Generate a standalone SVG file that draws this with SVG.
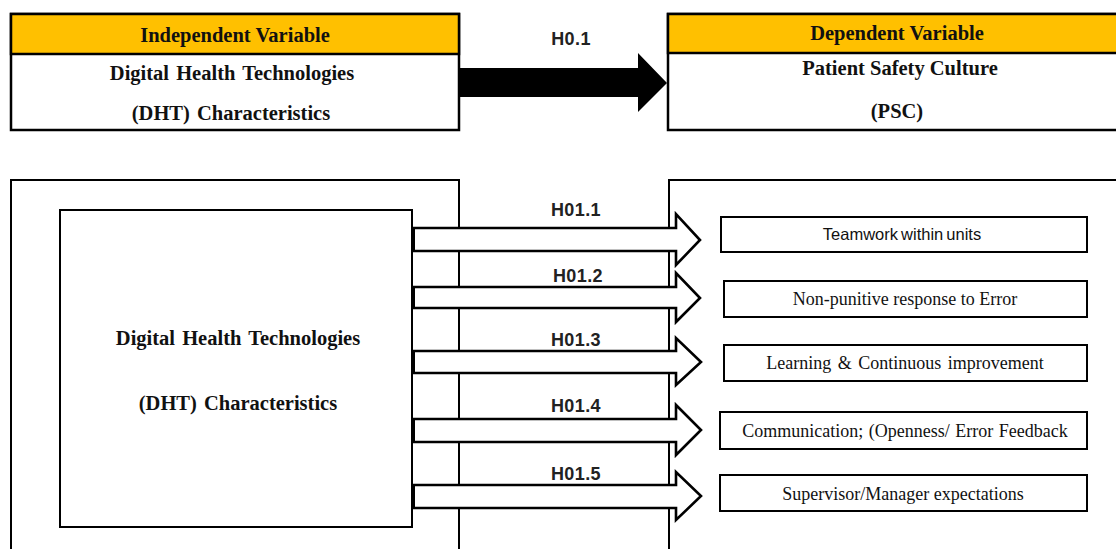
<svg xmlns="http://www.w3.org/2000/svg" width="1116" height="549" viewBox="0 0 1116 549">
<style>
.box{fill:#fff;stroke:#000;stroke-width:2.5}
.hdr{fill:#FFC000;stroke:#000;stroke-width:2.5}
.frame{fill:none;stroke:#000;stroke-width:2}
.hb{font-family:"Liberation Serif",serif;font-weight:bold;font-size:20.5px;fill:#111;text-anchor:middle}
.lab{font-family:"Liberation Sans",sans-serif;font-weight:bold;font-size:18px;fill:#222;text-anchor:middle;letter-spacing:0.4px}
.it{font-family:"Liberation Serif",serif;font-size:18px;fill:#111;text-anchor:middle}
.its{font-family:"Liberation Sans",sans-serif;font-size:16.5px;fill:#111;text-anchor:middle}
.arr{fill:#fff;stroke:#000;stroke-width:2.6;stroke-linejoin:miter}
.sb{fill:#fff;stroke:#000;stroke-width:2}
</style>
<rect width="1116" height="549" fill="#fff"/>

<g id="iv-top">
<rect class="box" x="11" y="14" width="448" height="116"/>
<rect class="hdr" x="11" y="14" width="448" height="40"/>
<text class="hb" x="235" y="42">Independent Variable</text>
<text class="hb" x="232" y="80" word-spacing="2">Digital Health Technologies</text>
<text class="hb" x="231" y="120" word-spacing="2">(DHT) Characteristics</text>
</g>

<g id="dv-top">
<rect class="box" x="668" y="14" width="460" height="116"/>
<rect class="hdr" x="668" y="14" width="460" height="39"/>
<text class="hb" x="897" y="40">Dependent Variable</text>
<text class="hb" x="900" y="75">Patient Safety Culture</text>
<text class="hb" x="897" y="118">(PSC)</text>
</g>

<g id="frame-left">
<rect class="frame" x="11" y="180" width="448" height="390"/>
</g>
<g id="frame-right">
<rect class="frame" x="669" y="180" width="470" height="390"/>
</g>

<g id="dht">
<rect class="sb" x="60" y="210" width="352" height="317"/>
<text class="hb" x="238" y="345" word-spacing="2">Digital Health Technologies</text>
<text class="hb" x="238" y="410" word-spacing="2">(DHT) Characteristics</text>
</g>

<g id="connectors">
<polygon fill="#000" points="459,68 638,68 638,53 667,83 638,112 638,97 459,97"/>
<text class="lab" x="571" y="45">H0.1</text>

<polygon class="arr" points="413,228 676,228 676,214 700,240 676,265 676,251 413,251"/>
<line x1="413" y1="228" x2="413" y2="251" stroke="#000" stroke-width="4"/>
<text class="lab" x="576" y="216">H01.1</text>

<polygon class="arr" points="413,287 676,287 676,273 700,298 676,322 676,308 413,308"/>
<line x1="413" y1="287" x2="413" y2="308" stroke="#000" stroke-width="4"/>
<text class="lab" x="578" y="282">H01.2</text>

<polygon class="arr" points="413,351 676,351 676,338 701,362 676,385 676,373 413,373"/>
<line x1="413" y1="351" x2="413" y2="373" stroke="#000" stroke-width="4"/>
<text class="lab" x="576" y="346">H01.3</text>

<polygon class="arr" points="413,419 676,419 676,405 701,430 676,455 676,442 413,442"/>
<line x1="413" y1="419" x2="413" y2="442" stroke="#000" stroke-width="4"/>
<text class="lab" x="576" y="412">H01.4</text>

<polygon class="arr" points="413,485 676,485 676,472 701,496 676,520 676,508 413,508"/>
<line x1="413" y1="485" x2="413" y2="508" stroke="#000" stroke-width="4"/>
<text class="lab" x="576" y="480">H01.5</text>
</g>

<g id="psc1">
<rect class="sb" x="721" y="217" width="366" height="35"/>
<text class="its" x="902" y="240" word-spacing="-1.5">Teamwork within units</text>
</g>
<g id="psc2">
<rect class="sb" x="724" y="281" width="363" height="36"/>
<text class="it" x="905" y="305">Non-punitive response to Error</text>
</g>
<g id="psc3">
<rect class="sb" x="724" y="345" width="363" height="36"/>
<text class="it" x="905" y="369" word-spacing="2">Learning &amp; Continuous improvement</text>
</g>
<g id="psc4">
<rect class="sb" x="720" y="412" width="367" height="37"/>
<text class="it" x="905" y="437" word-spacing="1">Communication; (Openness/ Error Feedback</text>
</g>
<g id="psc5">
<rect class="sb" x="720" y="475" width="367" height="36"/>
<text class="it" x="903" y="500">Supervisor/Manager expectations</text>
</g>
</svg>
